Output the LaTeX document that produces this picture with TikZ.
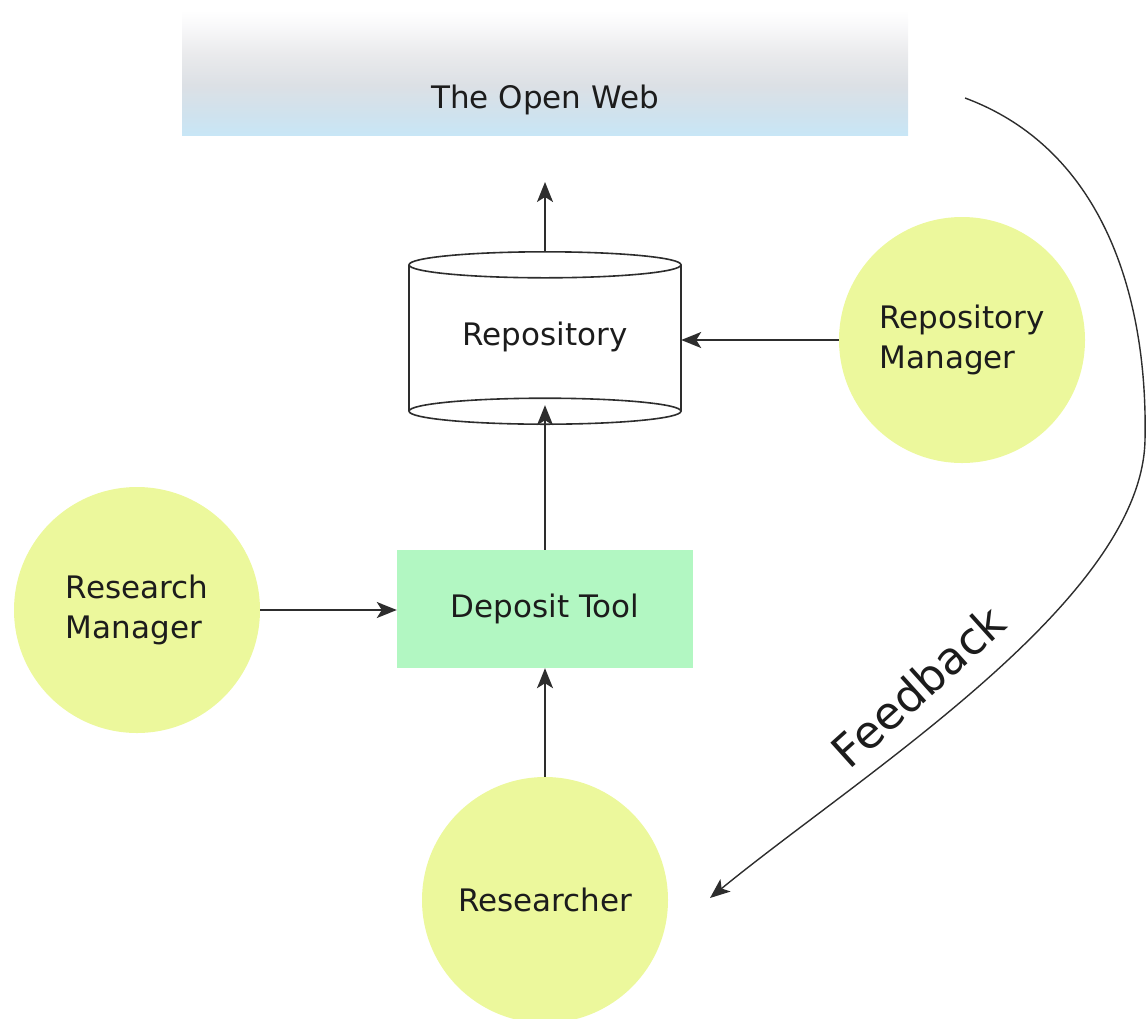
\documentclass[tikz,border=0pt]{standalone}
\usepackage{fontspec}
\setmainfont{DejaVu Sans}
\usetikzlibrary{arrows.meta}
\definecolor{actor}{RGB}{236,248,156}
\definecolor{tool}{RGB}{178,247,194}
\definecolor{webA}{RGB}{249,249,250}
\definecolor{webB}{RGB}{233,234,236}
\definecolor{webC}{RGB}{220,224,229}
\definecolor{webD}{RGB}{207,226,238}
\definecolor{webE}{RGB}{200,230,246}
\definecolor{ink}{RGB}{28,28,28}
\definecolor{lineink}{RGB}{45,45,45}
\pgfdeclareverticalshading{webshade}{100bp}{color(0bp)=(webE); color(25bp)=(webE); color(33bp)=(webD); color(45bp)=(webC); color(57bp)=(webB); color(69bp)=(webA); color(75bp)=(white); color(100bp)=(white)}
\tikzset{
  txt/.style={font=\fontsize{31}{40}\selectfont, text=ink},
  actornode/.style={circle, fill=actor, minimum size=246pt, inner sep=0pt, txt, align=left},
  conn/.style={draw=lineink, line width=1.8pt, -{Stealth[length=20pt,width=16pt,inset=5pt]}},
  plain/.style={draw=lineink, line width=1.6pt}
}
\begin{document}
\begin{tikzpicture}[x=1pt,y=-1pt]
\useasboundingbox (0,0) rectangle (1148,1018);
% The Open Web
\node (web) [minimum width=726pt, minimum height=125pt, inner sep=0pt, shading=webshade] at (545,72.5) {};
\node (webtext) [txt] at (545,100) {The Open Web};
% Repository cylinder
\node (repo) [minimum width=272pt, minimum height=146pt, inner sep=0pt] at (545,338) {};
\fill[white] (repo.north west) rectangle (repo.south east);
\draw[plain] (repo.north west) -- (repo.south west);
\draw[plain] (repo.north east) -- (repo.south east);
\draw[plain, fill=white] (repo.south) ellipse [x radius=136pt, y radius=13pt];
\draw[plain, fill=white] (repo.north) ellipse [x radius=136pt, y radius=13pt];
\node (repotext) [txt] at (545,337) {Repository};
% Deposit tool
\node (dep) [fill=tool, minimum width=296pt, minimum height=118pt, inner sep=0pt, txt] at (545,609) {Deposit Tool};
% Actors
\node (rm) [actornode] at (962,340) {Repository\\Manager};
\node (resm) [actornode] at (137,610) {Research\\Manager};
\node (res) [actornode] at (545,900) {Researcher};
% Connectors
\coordinate (webin) at (545,182);
\draw[conn] ([yshift=13pt]repo.north) -- (webin);
\draw[conn] (rm.west) -- (repo.east |- rm.west);
\draw[conn] (dep.north) -- ([yshift=6pt]repo.south);
\draw[conn] (resm.east) -- (dep.west |- resm.east);
\draw[conn] (res.north) -- (dep.south);
% Feedback
\coordinate (fbstart) at (965,98);
\coordinate (fbmid) at (1145,440);
\coordinate (fbend) at (710,898);
\draw[conn, line width=1.4pt] (fbstart) .. controls (1105,150) and (1148,300) .. (fbmid)
  .. controls (1142,600) and (860,775) .. (fbend);
\node (fblabel) [font=\fontsize{45}{52}\selectfont, text=ink, rotate=42] at (918,686) {Feedback};
\end{tikzpicture}
\end{document}
